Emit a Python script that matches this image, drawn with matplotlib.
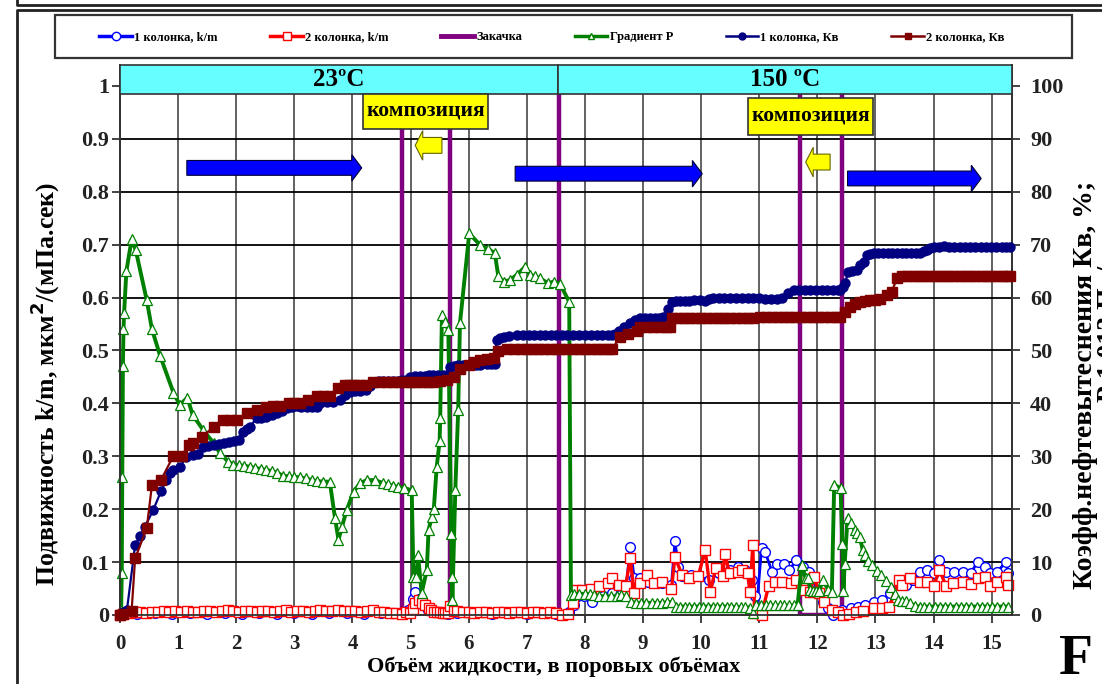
import numpy as np
import matplotlib
matplotlib.use('Agg')
import matplotlib.pyplot as plt
from matplotlib.patches import Rectangle, FancyArrow
from matplotlib.lines import Line2D

plt.rcParams['font.family'] = ['Liberation Serif', 'DejaVu Serif']
plt.rcParams['font.weight'] = 'bold'

# --- закачка (0 / 1 на левой оси) ---
zak_x = [0.0, 4.85, 4.85, 5.68, 5.68, 7.55, 7.55, 11.70, 11.70, 12.42, 12.42, 15.32]
zak_y = [0, 0, 1, 1, 0, 0, 1, 1, 0, 0, 1, 1]

# --- подвижность k/m, колонка 1 ---
km1_x = [0.00, 0.30, 0.60, 0.90, 1.20, 1.50, 1.80, 2.10, 2.40, 2.70, 3.00, 3.30, 3.60, 3.90,
         4.20, 4.50, 4.85, 4.95, 5.04, 5.08, 5.14, 5.20, 5.30, 5.40, 5.55, 5.65, 5.71, 5.80,
         6.10, 6.40, 6.70, 7.00, 7.30, 7.50, 7.60, 7.73, 7.82, 7.98, 8.13, 8.31, 8.46, 8.61,
         8.70, 8.78, 8.85, 8.94, 9.09, 9.33, 9.49, 9.55, 9.61, 9.67, 9.82, 9.95, 10.13, 10.31,
         10.49, 10.64, 10.76, 10.88, 10.92, 10.95, 11.04, 11.10, 11.22, 11.31, 11.43, 11.52,
         11.64, 11.76, 11.85, 12.00, 12.09, 12.18, 12.27, 12.43, 12.58, 12.70, 12.82, 12.98,
         13.12, 13.25, 13.40, 13.52, 13.64, 13.76, 13.88, 14.00, 14.10, 14.22, 14.36, 14.50,
         14.64, 14.76, 14.89, 14.98, 15.10, 15.25, 15.28]
km1_y = [0.000, 0.002, 0.003, 0.002, 0.003, 0.002, 0.003, 0.002, 0.003, 0.002, 0.003, 0.002, 0.004, 0.003,
         0.002, 0.003, 0.001, 0.010, 0.031, 0.044, 0.030, 0.020, 0.010, 0.005, 0.003, 0.002, 0.016, 0.004,
         0.003, 0.002, 0.003, 0.002, 0.003, 0.002, 0.000, 0.005, 0.019, 0.035, 0.025, 0.035, 0.041, 0.038,
         0.041, 0.129, 0.069, 0.069, 0.063, 0.060, 0.057, 0.139, 0.091, 0.073, 0.076, 0.073, 0.066, 0.079,
         0.085, 0.091, 0.085, 0.066, 0.035, 0.005, 0.126, 0.120, 0.082, 0.097, 0.097, 0.085,
         0.104, 0.091, 0.082, 0.047, 0.025, 0.013, 0.000, 0.010, 0.013, 0.016, 0.019, 0.025,
         0.028, 0.041, 0.066, 0.057, 0.066, 0.082, 0.085, 0.079, 0.104, 0.082, 0.082, 0.082,
         0.079, 0.101, 0.091, 0.079, 0.082, 0.101, 0.079]

# --- подвижность k/m, колонка 2 ---
km2_x = [0.00, 0.06, 0.15, 0.25, 0.35, 0.45, 0.55, 0.65, 0.75, 0.85, 0.95, 1.05, 1.15, 1.25,
         1.35, 1.45, 1.55, 1.65, 1.75, 1.85, 1.95, 2.05, 2.15, 2.25, 2.35, 2.45, 2.55, 2.65,
         2.75, 2.85, 2.95, 3.05, 3.15, 3.25, 3.35, 3.45, 3.55, 3.65, 3.75, 3.85, 3.95, 4.05,
         4.15, 4.25, 4.35, 4.45, 4.55, 4.65, 4.75, 4.85, 4.92, 4.99, 5.04, 5.08, 5.14, 5.19,
         5.25, 5.31, 5.36, 5.40, 5.46, 5.51, 5.56, 5.60, 5.65, 5.68, 5.74, 5.80, 5.90, 6.00,
         6.10, 6.20, 6.30, 6.40, 6.50, 6.60, 6.70, 6.80, 6.90, 7.00, 7.10, 7.20, 7.30, 7.40,
         7.50, 7.60, 7.71, 7.80, 7.85, 7.95, 8.10, 8.25, 8.40, 8.46, 8.58, 8.70, 8.78, 8.85,
         8.94, 9.07, 9.19, 9.33, 9.49, 9.55, 9.67, 9.79, 9.95, 10.07, 10.16, 10.25, 10.37,
         10.41, 10.49, 10.64, 10.70, 10.80, 10.84, 10.89, 10.92, 11.04, 11.16, 11.27, 11.39,
         11.54, 11.63, 11.76, 11.88, 11.94, 12.03, 12.12, 12.25, 12.36, 12.45, 12.55, 12.66,
         12.79, 12.98, 13.12, 13.24, 13.40, 13.46, 13.60, 13.76, 13.88, 14.00, 14.10, 14.22,
         14.34, 14.50, 14.64, 14.76, 14.89, 14.98, 15.10, 15.25, 15.28]
km2_y = [0.000, 0.002, 0.004, 0.006, 0.005, 0.004, 0.006, 0.005, 0.007, 0.006, 0.008, 0.005, 0.007, 0.006,
         0.005, 0.007, 0.008, 0.006, 0.007, 0.009, 0.007, 0.006, 0.008, 0.007, 0.005, 0.007, 0.008, 0.006,
         0.007, 0.009, 0.006, 0.007, 0.008, 0.006, 0.007, 0.009, 0.007, 0.008, 0.010, 0.008, 0.007, 0.008,
         0.006, 0.007, 0.009, 0.006, 0.005, 0.004, 0.003, 0.002, 0.006, 0.004, 0.012, 0.022, 0.028, 0.022,
         0.018, 0.013, 0.010, 0.006, 0.005, 0.005, 0.004, 0.004, 0.003, 0.017, 0.008, 0.007, 0.005, 0.006,
         0.004, 0.005, 0.006, 0.004, 0.005, 0.006, 0.004, 0.005, 0.006, 0.004, 0.005, 0.006, 0.004, 0.005,
         0.003, 0.000, 0.002, 0.022, 0.047, 0.047, 0.050, 0.054, 0.060, 0.069, 0.057, 0.054, 0.107, 0.041,
         0.060, 0.076, 0.060, 0.063, 0.049, 0.110, 0.076, 0.069, 0.073, 0.123, 0.044, 0.088, 0.073,
         0.115, 0.079, 0.082, 0.085, 0.079, 0.044, 0.132, 0.003, 0.000, 0.054, 0.063, 0.063,
         0.060, 0.066, 0.047, 0.044, 0.072, 0.041, 0.025, 0.009, 0.006, 0.000, 0.002, 0.006,
         0.008, 0.013, 0.013, 0.016, 0.066, 0.057, 0.069, 0.063, 0.063, 0.054, 0.085, 0.054,
         0.060, 0.063, 0.058, 0.069, 0.072, 0.054, 0.063, 0.072, 0.056]

# --- градиент давления (правая ось) ---
grad_x = [0.02, 0.03, 0.04, 0.05, 0.06, 0.07, 0.11, 0.20, 0.27, 0.46, 0.55, 0.69, 0.92, 1.03,
          1.16, 1.25, 1.43, 1.61, 1.72, 1.86, 1.95, 2.05, 2.14, 2.24, 2.33, 2.42, 2.52, 2.61,
          2.70, 2.81, 2.90, 3.00, 3.10, 3.20, 3.30, 3.39, 3.50, 3.61, 3.70, 3.76, 3.82, 3.90,
          4.02, 4.13, 4.25, 4.39, 4.53, 4.62, 4.70, 4.79, 4.88, 5.02, 5.05, 5.10, 5.13, 5.19,
          5.28, 5.31, 5.37, 5.40, 5.45, 5.50, 5.51, 5.54, 5.59, 5.65, 5.70, 5.71, 5.72, 5.77,
          5.82, 5.85, 6.01, 6.20, 6.34, 6.45, 6.51, 6.60, 6.71, 6.83, 6.97, 7.06, 7.15, 7.23,
          7.37, 7.46, 7.57, 7.73, 7.76, 7.82, 7.90, 8.00, 8.08, 8.15, 8.25, 8.35, 8.45, 8.55,
          8.62, 8.70, 8.79, 8.88, 8.97, 9.06, 9.15, 9.24, 9.33, 9.42, 9.50, 9.56, 9.64, 9.72,
          9.80, 9.88, 9.96, 10.04, 10.12, 10.20, 10.28, 10.36, 10.44, 10.52, 10.60, 10.68,
          10.76, 10.84, 10.90, 10.95, 11.03, 11.11, 11.19, 11.27, 11.35, 11.43, 11.51, 11.59,
          11.66, 11.73, 11.80, 11.84, 11.88, 11.93, 11.98, 12.03, 12.10, 12.19, 12.25, 12.29,
          12.40, 12.43, 12.45, 12.47, 12.52, 12.58, 12.64, 12.68, 12.73, 12.78, 12.82, 12.88,
          12.94, 13.02, 13.10, 13.18, 13.27, 13.33, 13.39, 13.45, 13.52, 13.60, 13.68, 13.76,
          13.84, 13.93, 14.02, 14.11, 14.20, 14.29, 14.38, 14.47, 14.56, 14.65, 14.74, 14.83,
          14.92, 15.01, 15.10, 15.19, 15.28]
grad_y = [1.0, 8.0, 26.0, 47.0, 54.0, 57.0, 65.0, 71.0, 69.0, 59.5, 54.0, 49.0, 42.0, 39.7,
          41.1, 37.8, 35.0, 32.5, 30.6, 29.0, 28.4, 28.3, 28.2, 28.0, 27.8, 27.6, 27.4, 27.2,
          26.9, 26.3, 26.2, 26.1, 26.0, 25.8, 25.5, 25.3, 25.2, 25.2, 18.3, 14.2, 16.7, 19.8,
          23.3, 24.9, 25.5, 25.5, 24.9, 24.7, 24.4, 24.2, 24.0, 23.6, 7.2, 7.2, 11.3, 4.1,
          8.5, 16.1, 18.6, 20.0, 28.0, 32.8, 37.2, 56.7, 55.4, 53.9, 15.4, 7.2, 2.8, 23.6,
          38.8, 55.1, 72.1, 69.9, 69.1, 68.4, 64.0, 63.0, 63.3, 64.3, 65.8, 64.3, 64.0, 63.6,
          62.7, 63.0, 62.6, 59.2, 3.8, 4.0, 4.0, 4.0, 3.9, 3.8, 3.6, 3.5, 3.5, 3.6,
          3.8, 3.5, 2.5, 2.3, 2.3, 2.3, 2.3, 2.3, 2.3, 2.4, 2.5, 1.6, 1.6, 1.6,
          1.6, 1.6, 1.6, 1.6, 1.6, 1.6, 1.6, 1.6, 1.6, 1.6, 1.5, 1.5,
          1.5, 1.4, 0.4, 1.8, 1.8, 1.8, 1.8, 1.8, 1.8, 1.8, 1.8, 1.8,
          1.8, 9.4, 6.9, 6.9, 4.8, 4.5, 4.5, 4.5, 6.6, 4.7, 4.3, 24.6,
          24.0, 13.5, 4.5, 9.6, 18.3, 17.4, 16.1, 15.5, 14.8, 12.3, 11.3, 10.2,
          9.4, 8.3, 7.5, 6.5, 5.3, 4.0, 2.8, 2.7, 2.6, 2.2, 1.7, 1.6,
          1.6, 1.6, 1.6, 1.6, 1.6, 1.6, 1.6, 1.6, 1.6, 1.6, 1.6, 1.6,
          1.6, 1.6, 1.6, 1.6, 1.6]

# --- коэффициент нефтевытеснения, колонка 1 ---
kv1_x = [0.00, 0.06, 0.12, 0.26, 0.35, 0.43, 0.57, 0.71, 0.80, 0.86, 0.92, 1.03, 1.14, 1.26,
         1.35, 1.43, 1.52, 1.61, 1.70, 1.79, 1.88, 1.96, 2.04, 2.12, 2.18, 2.24, 2.35, 2.43,
         2.52, 2.61, 2.70, 2.78, 2.87, 2.96, 3.04, 3.12, 3.21, 3.30, 3.39, 3.45, 3.56, 3.67,
         3.79, 3.87, 3.96, 4.05, 4.13, 4.24, 4.30, 4.36, 4.45, 4.53, 4.62, 4.70, 4.78, 4.86,
         4.93, 4.99, 5.08, 5.16, 5.24, 5.32, 5.39, 5.47, 5.55, 5.62, 5.68, 5.75, 5.82, 5.90,
         5.97, 6.05, 6.12, 6.20, 6.31, 6.38, 6.45, 6.48, 6.54, 6.60, 6.70, 6.83, 6.93, 7.03,
         7.12, 7.22, 7.31, 7.41, 7.50, 7.60, 7.70, 7.80, 7.90, 8.00, 8.10, 8.20, 8.30, 8.40,
         8.46, 8.52, 8.58, 8.68, 8.78, 8.87, 8.95, 9.04, 9.12, 9.20, 9.27, 9.35, 9.43, 9.50,
         9.57, 9.64, 9.72, 9.80, 9.88, 9.98, 10.06, 10.13, 10.21, 10.30, 10.40, 10.50, 10.60,
         10.70, 10.80, 10.90, 11.00, 11.10, 11.20, 11.30, 11.40, 11.50, 11.59, 11.68, 11.78,
         11.88, 11.98, 12.08, 12.17, 12.27, 12.35, 12.39, 12.44, 12.48, 12.53, 12.60, 12.68,
         12.74, 12.80, 12.85, 12.91, 12.97, 13.05, 13.13, 13.21, 13.29, 13.37, 13.45, 13.53,
         13.61, 13.69, 13.77, 13.83, 13.88, 13.94, 14.00, 14.09, 14.18, 14.27, 14.36, 14.45,
         14.54, 14.63, 14.72, 14.81, 14.90, 14.99, 15.08, 15.17, 15.25, 15.32]
kv1_y = [0.0, 0.5, 1.0, 13.2, 15.0, 16.7, 19.8, 23.5, 25.6, 26.8, 27.4, 27.9, 29.9, 30.2,
         30.4, 31.8, 32.0, 32.1, 32.4, 32.6, 32.7, 32.9, 33.1, 34.6, 35.2, 35.6, 37.2, 37.3,
         37.4, 37.8, 38.1, 38.6, 39.1, 39.3, 39.5, 39.4, 39.4, 39.4, 39.4, 40.1, 40.3, 40.3,
         40.6, 41.6, 42.2, 42.3, 42.4, 42.5, 43.2, 44.1, 44.2, 44.3, 44.3, 44.3, 44.3, 44.4,
         44.4, 45.0, 45.1, 45.2, 45.2, 45.3, 45.4, 45.4, 45.4, 45.4, 46.9, 47.1, 47.2, 47.2,
         47.2, 47.2, 47.2, 47.2, 47.5, 47.5, 47.5, 52.0, 52.3, 52.6, 52.8, 52.9, 52.9, 52.9,
         52.9, 52.9, 52.9, 52.9, 52.9, 52.9, 52.9, 52.9, 52.9, 52.9, 52.9, 52.9, 52.9, 52.9,
         52.9, 53.2, 53.6, 54.5, 55.1, 55.8, 56.1, 56.1, 56.1, 56.1, 56.1, 56.3, 57.8, 59.2,
         59.3, 59.4, 59.4, 59.4, 59.5, 59.5, 59.4, 59.7, 59.9, 60.0, 60.0, 60.0, 60.0,
         60.0, 60.0, 60.0, 59.9, 59.8, 59.8, 59.8, 59.9, 60.8, 61.4, 61.4, 61.4,
         61.4, 61.4, 61.4, 61.4, 61.4, 61.4, 61.4, 62.0, 62.7, 64.9, 65.0, 65.2,
         66.2, 66.8, 68.1, 68.3, 68.5, 68.5, 68.5, 68.4, 68.4, 68.4, 68.4, 68.4,
         68.4, 68.4, 68.4, 68.7, 69.0, 69.3, 69.6, 69.6, 69.7, 69.6, 69.6, 69.6,
         69.6, 69.5, 69.6, 69.6, 69.6, 69.5, 69.6, 69.6, 69.6, 69.5]

# --- коэффициент нефтевытеснения, колонка 2 ---
kv2_x = [0.00, 0.06, 0.20, 0.26, 0.46, 0.55, 0.71, 0.92, 1.06, 1.18, 1.26, 1.41, 1.61, 1.78,
         1.90, 2.01, 2.18, 2.35, 2.52, 2.64, 2.76, 2.90, 3.00, 3.10, 3.24, 3.39, 3.50, 3.61,
         3.76, 3.87, 3.95, 4.02, 4.13, 4.24, 4.36, 4.47, 4.59, 4.70, 4.80, 4.90, 5.00, 5.10,
         5.20, 5.30, 5.39, 5.50, 5.62, 5.74, 5.85, 6.00, 6.10, 6.20, 6.31, 6.43, 6.51, 6.66,
         6.78, 6.90, 7.00, 7.10, 7.20, 7.30, 7.40, 7.50, 7.58, 7.70, 7.80, 7.90, 8.00, 8.10,
         8.20, 8.30, 8.40, 8.46, 8.61, 8.75, 8.89, 8.95, 9.07, 9.18, 9.30, 9.40, 9.47, 9.50,
         9.60, 9.70, 9.80, 9.90, 10.00, 10.10, 10.20, 10.30, 10.40, 10.50, 10.60, 10.70,
         10.80, 10.90, 11.02, 11.12, 11.22, 11.32, 11.42, 11.52, 11.62, 11.72, 11.82, 11.92,
         12.02, 12.12, 12.22, 12.32, 12.39, 12.48, 12.56, 12.65, 12.74, 12.82, 12.91, 13.00,
         13.08, 13.20, 13.28, 13.37, 13.46, 13.55, 13.64, 13.73, 13.82, 13.91, 14.00, 14.09,
         14.18, 14.27, 14.36, 14.45, 14.54, 14.63, 14.72, 14.81, 14.90, 14.99, 15.08, 15.17,
         15.25, 15.32]
kv2_y = [0.0, 0.2, 0.8, 10.7, 16.4, 24.6, 25.6, 30.1, 30.1, 32.1, 32.5, 33.7, 35.5, 36.9,
         36.9, 36.9, 38.1, 38.8, 39.3, 39.5, 39.5, 40.0, 40.1, 40.1, 40.6, 41.3, 41.3, 41.3,
         42.9, 43.5, 43.5, 43.5, 43.5, 43.5, 44.1, 44.1, 44.1, 44.1, 44.1, 44.1, 44.1, 44.1,
         44.1, 44.1, 44.1, 44.2, 44.4, 45.0, 46.4, 47.3, 47.8, 48.2, 48.4, 48.5, 49.8, 50.2,
         50.2, 50.2, 50.2, 50.2, 50.2, 50.2, 50.2, 50.2, 50.2, 50.2, 50.2, 50.2, 50.2, 50.2,
         50.2, 50.2, 50.2, 50.2, 52.5, 53.2, 53.6, 54.5, 54.5, 54.5, 54.5, 54.5, 54.5, 56.1,
         56.1, 56.1, 56.1, 56.1, 56.1, 56.1, 56.1, 56.1, 56.1, 56.1, 56.1, 56.1,
         56.1, 56.2, 56.3, 56.3, 56.3, 56.3, 56.3, 56.3, 56.3, 56.3, 56.3, 56.3,
         56.3, 56.3, 56.3, 56.3, 56.3, 57.3, 58.3, 58.7, 59.2, 59.3, 59.5, 59.6,
         59.8, 60.5, 61.1, 63.6, 64.0, 64.0, 64.0, 64.0, 64.0, 64.0, 64.0, 64.0,
         64.0, 64.0, 64.0, 64.0, 64.0, 64.0, 64.0, 64.0, 64.0, 64.0, 64.0, 64.0,
         64.0, 64.0]

stages = [(0.0, 7.53, '23ºC'), (7.53, 15.35, '150 ºC')]
comp_boxes = [(4.19, 6.34, 0.918, 0.985), (10.81, 12.96, 0.907, 0.977)]
flow_arrows = [(1.15, 4.16, 0.845), (6.80, 10.02, 0.834), (12.52, 14.82, 0.825)]
back_arrows = [(5.54, 5.08, 0.8875), (12.22, 11.80, 0.856)]

fig = plt.figure(figsize=(11.02, 6.84), dpi=100)
ax = fig.add_axes([120 / 1102, 1 - 615 / 684, 892 / 1102, 550.3 / 684])
ax2 = ax.twinx()

ax.set_xlim(0, 15.35)
ax.set_ylim(0, 1.04)
ax2.set_ylim(0, 104)

ax.set_xticks(range(0, 16))
ax.set_yticks(np.arange(0, 1.01, 0.1))
ax.set_yticklabels(['0'] + ['%.1f' % v for v in np.arange(0.1, 0.95, 0.1)] + ['1'])
ax2.set_yticks(range(0, 101, 10))

for a in (ax, ax2):
    a.tick_params(direction='out', length=6, width=1.2, labelsize=16, colors='#222222')
    for s in a.spines.values():
        s.set_color('#333333')
        s.set_linewidth(1.3)
    a.spines['top'].set_visible(False)
ax.tick_params(axis='y', pad=2)
ax2.tick_params(axis='y', pad=7)
ax.tick_params(axis='x', pad=8, labelsize=15)

ax.xaxis.grid(True, color='#555555', lw=1.3)
ax.yaxis.grid(True, color='black', lw=1.3)
ax.set_axisbelow(True)

# закачка и подвижность
ax.plot(zak_x, zak_y, color='#800080', lw=3.2, zorder=2)
ax.plot(km1_x, km1_y, color='#0000FF', lw=2.0, marker='o', ms=7, mfc='white',
        mec='#0000FF', mew=1.0, clip_on=False, zorder=3)
ax.plot(km2_x, km2_y, color='#FF0000', lw=2.4, marker='s', ms=7, mfc='white',
        mec='#FF0000', mew=1.0, clip_on=False, zorder=3)

# градиент и Кв
ax2.plot(grad_x, grad_y, color='#008000', lw=2.8, marker='^', ms=6.5, mfc='white',
         mec='#008000', mew=0.9, clip_on=False, zorder=2)
ax2.plot(kv1_x, kv1_y, color='#000080', lw=1.6, marker='o', ms=6.5, mec='#000080',
         mfc='#000080', clip_on=False, zorder=3)
ax2.plot(kv2_x, kv2_y, color='#800000', lw=1.6, marker='s', ms=6.5, mec='#800000',
         mfc='#800000', clip_on=False, zorder=4)

# полоса температур
for x0, x1, lab in stages:
    ax2.add_patch(Rectangle((x0, 98.5), x1 - x0, 5.5, fc='#66FFFF', ec='#333333',
                            lw=1.2, zorder=10, clip_on=False))
    ax2.text((x0 + x1) / 2, 101.2, lab, ha='center', va='center', fontsize=18,
             fontweight='bold', zorder=11)

for x0, x1, y0, y1 in comp_boxes:
    ax2.add_patch(Rectangle((x0, y0 * 100), x1 - x0, (y1 - y0) * 100, fc='#FFFF00',
                            ec='#333333', lw=1.2, zorder=10))
    ax2.text((x0 + x1) / 2, (y0 + y1) * 50 + 0.2, 'композиция', ha='center', va='center',
             fontsize=15.5, fontweight='bold', zorder=11)

for x0, x1, y in flow_arrows:
    ax2.add_patch(FancyArrow(x0, y * 100, x1 - x0, 0, width=2.8, head_width=5.0,
                             head_length=0.17, length_includes_head=True,
                             fc='#0000FF', ec='#000033', lw=0.8, zorder=10))
for x0, x1, y in back_arrows:
    ax2.add_patch(FancyArrow(x0, y * 100, x1 - x0, 0, width=3.0, head_width=5.6,
                             head_length=0.13, length_includes_head=True,
                             fc='#FFFF00', ec='#666600', lw=0.8, zorder=10))

# подписи осей
fig.text(554 / 1102, 1 - 667 / 684, 'Объём жидкости, в поровых объёмах',
         ha='center', va='center', fontsize=16, fontweight='bold')
fig.text(45 / 1102, 1 - 384 / 684, 'Подвижность k/m, мкм$^\\mathbf{2}$/(мПа.сек)',
         rotation=90, ha='center', va='center', fontsize=18.5, fontweight='bold')
fig.text(1073 / 1102, 1 - 385 / 684,
         'Коэфф.нефтевытеснения Кв, %;\nградиент Р 1,013 Па/м',
         rotation=90, ha='left', va='center', fontsize=20, fontweight='bold',
         multialignment='center', linespacing=0.95)
fig.text(1076 / 1102, 1 - 660 / 684, 'F', ha='center', va='center',
         fontsize=40, fontweight='bold')

# легенда
handles = [
    Line2D([], [], color='#0000FF', lw=2.5, marker='o', ms=6, mfc='white', mec='#0000FF'),
    Line2D([], [], color='#FF0000', lw=2.5, marker='s', ms=6, mfc='white', mec='#FF0000'),
    Line2D([], [], color='#800080', lw=3.5),
    Line2D([], [], color='#008000', lw=2.5, marker='^', ms=5, mfc='white', mec='#008000'),
    Line2D([], [], color='#000080', lw=1.8, marker='o', ms=5, mfc='#000080', mec='#000080'),
    Line2D([], [], color='#800000', lw=1.8, marker='s', ms=5, mfc='#800000', mec='#800000'),
]
labels = ['1 колонка, k/m', '2 колонка, k/m', 'Закачка', 'Градиент Р',
          '1 колонка, Кв', '2 колонка, Кв']
fig.legend(handles, labels, loc='center', bbox_to_anchor=(552 / 1102, 1 - 37 / 684),
           ncol=6, frameon=False, prop={'size': 9, 'weight': 'bold'},
           handlelength=2.6, handletextpad=0.2, columnspacing=4.2)
fig.add_artist(Rectangle((55 / 1102, 1 - 58 / 684), 1017 / 1102, 43 / 684,
                         transform=fig.transFigure, fc='none', ec='#333333', lw=1.6))

# рамка листа
fig.add_artist(Line2D([17 / 1102, 17 / 1102, 1], [1, 1 - 5 / 684, 1 - 5 / 684],
                      transform=fig.transFigure, color='#222222', lw=2))
fig.add_artist(Line2D([17 / 1102, 17 / 1102, 1], [0, 1 - 10 / 684, 1 - 10 / 684],
                      transform=fig.transFigure, color='#222222', lw=2))

fig.savefig('out.png', dpi=100)
